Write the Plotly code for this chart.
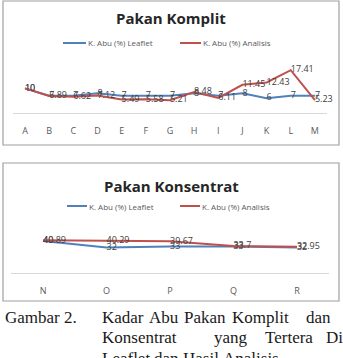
import plotly.graph_objects as go

W, H = 343, 358

# ---------------- data ----------------
komplit_cats = ["A", "B", "C", "D", "E", "F", "G", "H", "I", "J", "K", "L", "M"]
komplit_leaflet = [10, 7, 7, 8, 7, 7, 7, 8, 7, 8, 6, 7, 7]
komplit_analisis = [10, 6.89, 6.62, 7.12, 5.49, 5.58, 5.21, 8.48, 6.11, 11.45, 12.43, 17.41, 5.23]

konsentrat_cats = ["N", "O", "P", "Q", "R"]
konsentrat_leaflet = [40, 32, 33, 33, 32]
konsentrat_analisis = [40.89, 40.29, 39.67, 33.7, 32.95]

series_names = ["K. Abu (%) Leaflet", "K. Abu (%) Analisis"]
chart_titles = ["Pakan Komplit", "Pakan Konsentrat"]

BLUE = "#4F81BD"
RED = "#C0504D"
LBL = "#404040"
AX = "#595959"


def px(x):
    return x / W


def py(y):
    return 1 - y / H


def fmt(v):
    return f"{v:g}"


fig = go.Figure()

# top chart
fig.add_trace(go.Scatter(x=komplit_cats, y=komplit_leaflet, mode="lines+text",
                         text=[fmt(v) for v in komplit_leaflet], textposition="middle right",
                         textfont=dict(size=9, color=LBL, family="Open Sans"),
                         line=dict(color=BLUE, width=2), name=series_names[0],
                         showlegend=False, xaxis="x", yaxis="y", cliponaxis=False))
fig.add_trace(go.Scatter(x=komplit_cats, y=komplit_analisis, mode="lines+text",
                         text=[fmt(v) for v in komplit_analisis], textposition="middle right",
                         textfont=dict(size=9, color=LBL, family="Open Sans"),
                         line=dict(color=RED, width=2), name=series_names[1],
                         showlegend=False, xaxis="x", yaxis="y", cliponaxis=False))
# bottom chart
fig.add_trace(go.Scatter(x=konsentrat_cats, y=konsentrat_leaflet, mode="lines+text",
                         text=[fmt(v) for v in konsentrat_leaflet], textposition="middle right",
                         textfont=dict(size=9, color=LBL, family="Open Sans"),
                         line=dict(color=BLUE, width=2), name=series_names[0],
                         showlegend=False, xaxis="x2", yaxis="y2", cliponaxis=False))
fig.add_trace(go.Scatter(x=konsentrat_cats, y=konsentrat_analisis, mode="lines+text",
                         text=[fmt(v) for v in konsentrat_analisis], textposition="middle right",
                         textfont=dict(size=9, color=LBL, family="Open Sans"),
                         line=dict(color=RED, width=2), name=series_names[1],
                         showlegend=False, xaxis="x2", yaxis="y2", cliponaxis=False))

xcommon = dict(type="category", showline=True, linecolor="#d9d9d9", linewidth=1,
               showgrid=False, zeroline=False, ticks="outside", ticklen=9,
               tickcolor="rgba(0,0,0,0)", tickfont=dict(size=9, color=AX, family="Open Sans"),
               fixedrange=True)
ycommon = dict(visible=False, showgrid=False, zeroline=False, fixedrange=True)

fig.update_layout(
    width=W, height=H,
    margin=dict(l=0, r=0, t=0, b=0),
    paper_bgcolor="white", plot_bgcolor="rgba(0,0,0,0)",
    xaxis=dict(xcommon, domain=[px(12.9), px(327)], range=[-0.5, 12.5], anchor="y"),
    yaxis=dict(ycommon, domain=[py(113), py(63.8)], range=[0, 20], anchor="x"),
    xaxis2=dict(xcommon, domain=[px(11.3), px(328.7)], range=[-0.5, 4.5], anchor="y2"),
    yaxis2=dict(ycommon, domain=[py(273), py(225)], range=[0, 60], anchor="x2"),
)

shapes = []
annotations = []

# chart boxes
for (y0, y1) in [(1, 145), (163, 301)]:
    shapes.append(dict(type="rect", xref="paper", yref="paper", x0=px(3), x1=px(339),
                       y0=py(y1), y1=py(y0), line=dict(color="#a0a0a0", width=1.2)))

# titles
for title, yc in [(chart_titles[0], 18), (chart_titles[1], 186)]:
    annotations.append(dict(text=f"<b>{title}</b>", x=px(171), y=py(yc), xref="paper", yref="paper",
                            showarrow=False, xanchor="center", yanchor="middle",
                            font=dict(size=15, color="#262626", family="Open Sans")))

# legends (manual)
for yc, entries in [(43, [(63, 86, BLUE, series_names[0]), (180, 201, RED, series_names[1])]),
                    (206, [(67, 87, BLUE, series_names[0]), (180, 200, RED, series_names[1])])]:
    for x0, x1, col, name in entries:
        shapes.append(dict(type="line", xref="paper", yref="paper", x0=px(x0), x1=px(x1),
                           y0=py(yc), y1=py(yc), line=dict(color=col, width=2)))
        annotations.append(dict(text=name, x=px(x1), y=py(yc), xref="paper", yref="paper",
                                showarrow=False, xanchor="left", yanchor="middle",
                                font=dict(size=8, color=AX, family="Open Sans")))

# caption (justified words)
caption = [
    (317, [("Gambar 2.", 3), ("Kadar", 100), ("Abu", 147), ("Pakan", 182), ("Komplit", 230), ("dan", 304)]),
    (337, [("Konsentrat", 100), ("yang", 212), ("Tertera", 263), ("Di", 324)]),
    (358, [("Leaflet", 100), ("dan", 152), ("Hasil", 181), ("Analisis", 221)]),
]
for yc, words in caption:
    for w, x in words:
        annotations.append(dict(text=w, x=px(x), y=py(yc), xref="paper", yref="paper",
                                showarrow=False, xanchor="left", yanchor="middle",
                                font=dict(size=17, color="#1a1a1a", family="Liberation Serif")))

fig.update_layout(shapes=shapes, annotations=annotations)

fig.write_html("out.html")
